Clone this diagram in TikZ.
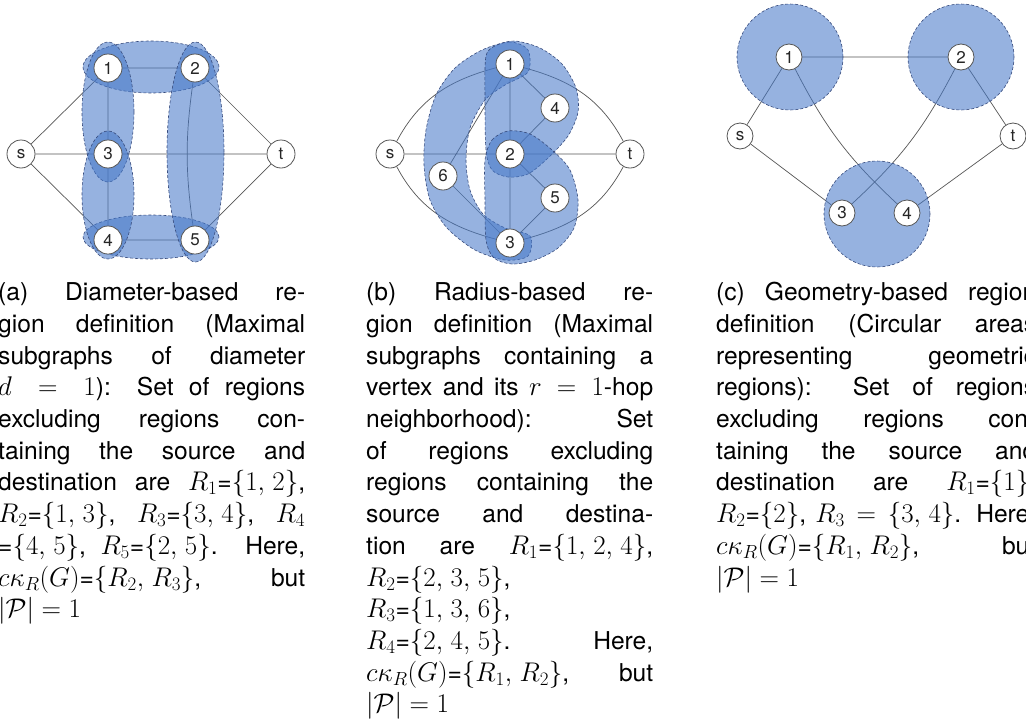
\RequirePackage{fix-cm}
\documentclass[tikz,border=0pt]{standalone}
\usepackage{fontspec}
\setmainfont{TeX Gyre Heros}
\usetikzlibrary{backgrounds}
\DeclareMathSizes{24.6}{27}{19}{14}

\definecolor{regfill}{RGB}{70,120,200}
\definecolor{regline}{RGB}{55,75,125}
\definecolor{edgegray}{RGB}{85,85,85}
\newcommand{\capfont}{\fontsize{24.6}{31.7}\selectfont\thinmuskip=5mu}
\newcommand{\jline}[1]{\makebox[\hsize][s]{#1}}

\begin{document}
\begin{tikzpicture}[x=1pt, y=1pt,
    vertex/.style={circle, draw=edgegray, line width=0.8pt, fill=white, minimum size=28pt,
      inner sep=0pt, text=black!85, font=\fontsize{17}{20}\selectfont},
    smallvertex/.style={vertex, minimum size=26pt},
    link/.style={edgegray, line width=0.7pt},
    region/.style={fill=regfill, fill opacity=0.57, draw=regline, draw opacity=1,
      densely dashed, line width=0.6pt},
    caption/.style={anchor=base west, inner sep=0pt, align=justify, font=\capfont}]
  \useasboundingbox (0,0) rectangle (1026,-723);

  % (a) diameter-based regions
  \foreach \n/\x/\y in {s/21/154, 1/108/68, 2/195/68, 3/108/154, t/281/154, 4/108/240, 5/195/240}
    \node[vertex] (a\n) at (\x,-\y) {\n};
  \begin{pgfonlayer}{background}
    \draw[link] (as) -- (a1) (as) -- (a3) (as) -- (a4) (a1) -- (a2) (a1) -- (a3)
      (a3) -- (a4) (a4) -- (a5) (a3) -- (at) (a2) -- (at) (a5) -- (at);
    \draw[link] (a2) to[bend right=8] (a5);
    \draw[region] (151,-67) ellipse [x radius=68pt, y radius=26pt];
    \draw[region] (151,-237) ellipse [x radius=68pt, y radius=22pt];
    \draw[region] (108,-112) ellipse [x radius=26pt, y radius=70pt];
    \draw[region] (108,-195) ellipse [x radius=26pt, y radius=64pt];
    \draw[region] (195.5,-152) ellipse [x radius=28.5pt, y radius=110pt];
  \end{pgfonlayer}

  % (b) radius-based regions
  \foreach \n/\x/\y in {s/390/154, 1/510/64, 4/555/108, 2/510/154, t/630/154, 6/443/176, 5/555/198, 3/510/243}
    \node[vertex] (b\n) at (\x,-\y) {\n};
  \begin{pgfonlayer}{background}
    \draw[link] (bs) -- (b2) (b2) -- (bt) (b1) -- (b2) (b2) -- (b3) (b1) -- (b4)
      (b4) -- (b2) (b2) -- (b5) (b5) -- (b3) (b1) -- (b6) (b6) -- (b3);
    \draw[link] (bs) to[out=62, in=195] (b1) (b1) to[out=-15, in=118] (bt)
      (bs) to[out=-62, in=165] (b3) (b3) to[out=15, in=-118] (bt);
    % R3 = {1,3,6}
    \draw[region] plot[smooth cycle] coordinates {(528,-50) (510,-42) (482,-50) (455,-68)
      (436,-95) (426,-130) (424,-165) (430,-200) (447,-228) (475,-250) (505,-260)
      (528,-256) (530,-236) (505,-228) (483,-214) (470,-190) (466,-160) (470,-128)
      (485,-100) (505,-85) (528,-72)};
    % R1 = {1,2,4}
    \draw[region] plot[smooth cycle] coordinates {(486,-56) (497,-45) (515,-41) (540,-48)
      (562,-64) (576,-88) (578,-112) (568,-136) (548,-158) (528,-174) (508,-177)
      (492,-170) (486,-150) (485,-100)};
    % R2 = {2,3,5}
    \draw[region] plot[smooth cycle] coordinates {(485,-160) (492,-140) (508,-131) (530,-134)
      (552,-150) (570,-170) (578,-200) (574,-228) (558,-248) (535,-260) (512,-264)
      (494,-258) (486,-240) (485,-200)};
  \end{pgfonlayer}

  % (c) geometry-based regions
  \foreach \n/\x/\y in {s/740/136, 1/789/57, 2/961/57, t/1013/136, 3/842/213, 4/907/213}
    \node[smallvertex] (c\n) at (\x,-\y) {\n};
  \begin{pgfonlayer}{background}
    \draw[link] (cs) -- (c1) (cs) -- (c3) (c1) -- (c2) (c2) -- (ct) (ct) -- (c4);
    \draw[link] (c1) to[bend right=10] (c4) (c2) to[bend left=10] (c3);
    \draw[region] (790,-57) circle [radius=53pt];
    \draw[region] (961,-57) circle [radius=53pt];
    \draw[region] (877,-214) circle [radius=53pt];
  \end{pgfonlayer}

  % captions
  \node[caption, text width=307pt] (capa) at (-2,-300.7) {\noindent
    \jline{(a) Diameter-based re-}\\
    \jline{gion definition (Maximal}\\
    \jline{subgraphs of diameter}\\
    \jline{$d = 1$): Set of regions}\\
    \jline{excluding regions con-}\\
    \jline{taining the source and}\\
    \jline{destination are $R_1$=$\{1,2\}$,}\\
    \jline{$R_2$=$\{1,3\}$, $R_3$=$\{3,4\}$, $R_4$}\\
    \jline{=$\{4,5\}$, $R_5$=$\{2,5\}$. Here,}\\
    \jline{$c\kappa_R(G)$=$\{R_2,R_3\}$, but}\\
    $|\mathcal{P}| = 1$};
  \node[caption, text width=287pt] (capb) at (366,-300.7) {\noindent
    \jline{(b) Radius-based re-}\\
    \jline{gion definition (Maximal}\\
    \jline{subgraphs containing a}\\
    \jline{vertex and its $r = 1$-hop}\\
    \jline{neighborhood): Set}\\
    \jline{of regions excluding}\\
    \jline{regions containing the}\\
    \jline{source and destina-}\\
    \jline{tion are $R_1$=$\{1,2,4\}$,}\\
    $R_2$=$\{2,3,5\}$,\\
    $R_3$=$\{1,3,6\}$,\\
    \jline{$R_4$=$\{2,4,5\}$. Here,}\\
    \jline{$c\kappa_R(G)$=$\{R_1,R_2\}$, but}\\
    $|\mathcal{P}| = 1$};
  \node[caption, text width=320pt] (capc) at (716,-300.7) {\noindent
    \jline{(c) Geometry-based region}\\
    \jline{definition (Circular areas}\\
    \jline{representing geometric}\\
    \jline{regions): Set of regions}\\
    \jline{excluding regions con-}\\
    \jline{taining the source and}\\
    \jline{destination are $R_1$=$\{1\}$,}\\
    \jline{$R_2$=$\{2\}$, $R_3 = \{3,4\}$. Here,}\\
    \jline{$c\kappa_R(G)$=$\{R_1,R_2\}$, but}\\
    $|\mathcal{P}| = 1$};
\end{tikzpicture}
\end{document}
